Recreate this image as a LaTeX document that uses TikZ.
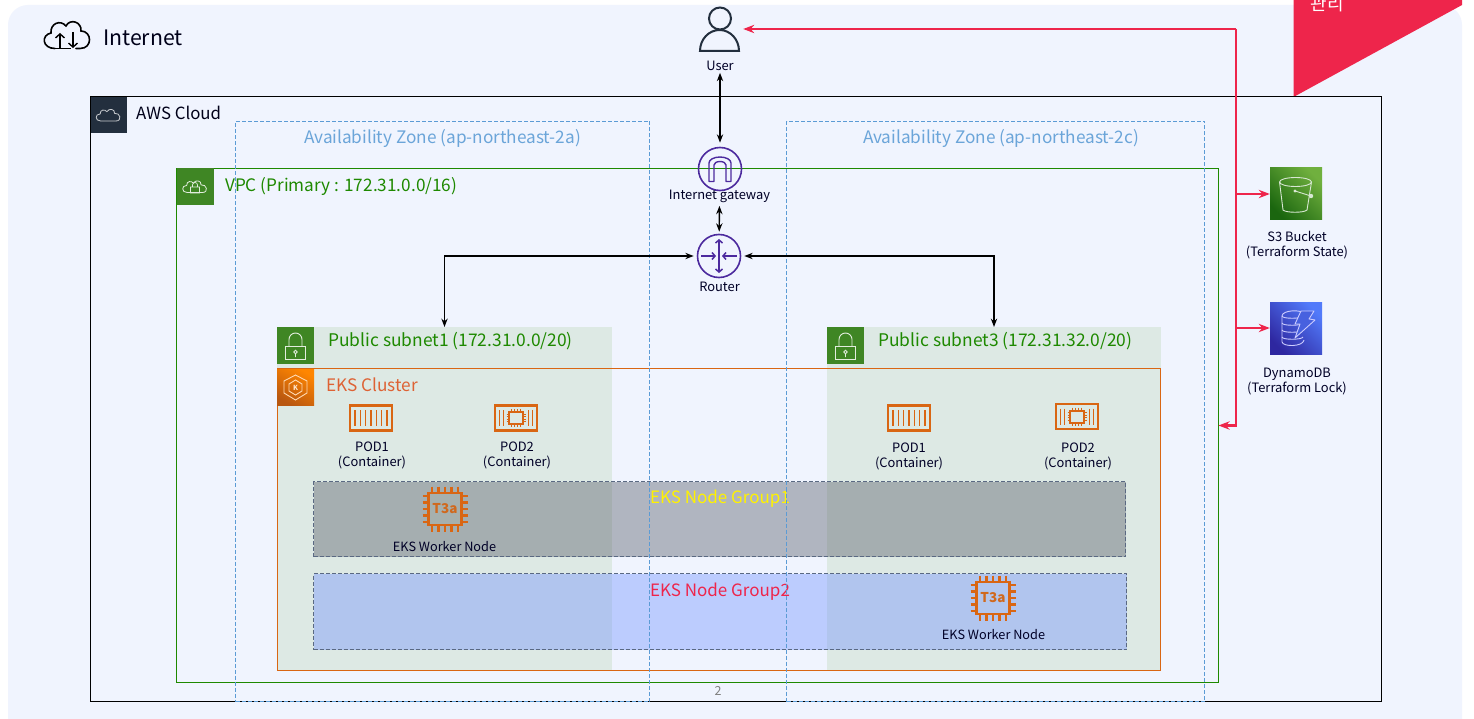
\documentclass[tikz,border=0pt]{standalone}
\usepackage{fontspec}
\setmainfont{Noto Sans CJK KR}
\usetikzlibrary{arrows.meta}
\definecolor{bgblue}{RGB}{240,244,254}
\definecolor{awsdark}{RGB}{35,47,62}
\definecolor{vpcgreen}{RGB}{30,137,0}
\definecolor{taggreen}{RGB}{63,134,36}
\definecolor{zoneblue}{RGB}{91,155,213}
\definecolor{subnetfill}{RGB}{221,233,228}
\definecolor{eksorange}{RGB}{217,102,19}
\definecolor{ekstext}{RGB}{222,98,52}
\definecolor{redline}{RGB}{238,37,75}
\definecolor{gwpurple}{RGB}{76,42,158}
\definecolor{groupedge}{RGB}{90,105,130}
\definecolor{groupgrey}{RGB}{82,87,100}
\definecolor{groupblue}{RGB}{117,149,254}
\definecolor{chipgrey}{RGB}{166,176,174}
\definecolor{chipblue}{RGB}{178,198,238}
\definecolor{sthreelight}{RGB}{112,176,62}
\definecolor{sthreedark}{RGB}{27,102,15}
\definecolor{dynamolight}{RGB}{82,122,250}
\definecolor{dynamodark}{RGB}{46,39,160}
\tikzset{
  box/.style={anchor=north west,inner sep=0,outer sep=0,minimum width=#1},
  tagbox/.style={anchor=north west,inner sep=0,outer sep=0,minimum size=37pt,fill=taggreen},
  txt/.style={inner sep=0,outer sep=0,text=black!85!blue,font=\fontsize{12.9}{15}\selectfont,align=center},
  zonetxt/.style={inner sep=0,text=zoneblue!90!white,font=\fontsize{17.2}{20}\selectfont},
  greentxt/.style={inner sep=0,anchor=west,text=vpcgreen,font=\fontsize{17.2}{20}\selectfont},
  grouptxt/.style={inner sep=0,font=\fontsize{17}{20}\selectfont},
  biarrow/.style={{Stealth[scale=.9]}-{Stealth[scale=.9]},line width=1.4pt},
  redarrow/.style={-{Stealth[scale=.8]},draw=redline,line width=2.4pt},
  podframe/.style={draw=eksorange,line width=2.2pt},
  zoneline/.style={draw=zoneblue,dash pattern=on 4pt off 2pt,line width=1pt},
  pics/cloudicon/.style={code={
    \draw[#1] (-14,11) .. controls (-25,11) and (-25,-2) .. (-15,-2)
      .. controls (-16,-10) and (-6,-11) .. (-3,-6)
      .. controls (1,-13) and (12,-11) .. (11,-3)
      .. controls (21,-5) and (26,11) .. (13,11) -- cycle;
  }},
  pics/lockicon/.style={code={
    \draw[white!85!taggreen,line width=.9pt] (-10,1) rectangle (10,14);
    \draw[white!85!taggreen,line width=.9pt] (-6.5,1) -- (-6.5,-6) arc (180:360:6.5) -- (6.5,1);
    \draw[white!85!taggreen,line width=.8pt] (0,6.5) circle (1.8) (0,8.3) -- (0,11.5);
  }},
  pics/podone/.style={code={
    \draw[podframe] (-21,-12.5) rectangle (21,12.5);
    \foreach \i in {-16,-10.67,-5.33,0,5.33,10.67,16} \draw[eksorange,line width=1.6pt] (\i,-8) -- (\i,8);
  }},
  pics/podtwo/.style={code={
    \draw[podframe] (-21,-12.5) rectangle (21,12.5);
    \foreach \i in {-16.5,-12.5,12.5,16.5} \draw[eksorange,line width=1.6pt] (\i,-8) -- (\i,8);
    \foreach \i in {-4.5,-1.5,1.5,4.5} \draw[eksorange,line width=1pt] (\i,-9) -- (\i,9) (-9.5,\i*.8) -- (9.5,\i*.8);
    \draw[eksorange,line width=2pt,fill=subnetfill] (-7,-6) rectangle (7,6);
  }},
  pics/chipicon/.style={code={
    \foreach \i in {-13,-6.5,0,6.5,13} \draw[eksorange,line width=2.2pt] (\i,-22.5) -- (\i,22.5) (-22.5,\i) -- (22.5,\i);
    \draw[eksorange,line width=2.2pt,fill=#1] (-16.5,-16) rectangle (16.5,16);
    \node[inner sep=0,text=eksorange!90!gray,font=\fontsize{13.5}{15}\selectfont\bfseries] at (0,0) {T3a};
  }},
}
\begin{document}
\begin{tikzpicture}[x=1pt,y=-1pt]
\useasboundingbox (0,0) rectangle (1474,719);
\fill[white] (0,0) rectangle (1474,719);
\fill[bgblue,rounded corners=20pt] (8,740) -- (8,5) -- (1462,5) -- (1462,740) -- cycle;

% corner flag
\fill[redline] (1293.5,97) -- (1293.5,-2) -- (1462,-2) -- (1462,5) -- cycle;
\node[inner sep=0,text=white,font=\fontsize{18}{20}\selectfont] (flagtext) at (1327,4) {관리};

% internet
\draw[line width=1.6pt,line cap=round] (55,48.5) .. controls (42,48.5) and (41,35) .. (51,33)
  .. controls (50,24) and (60,19) .. (66,26) .. controls (70,18) and (82,22) .. (81,31)
  .. controls (92,31) and (93,48.5) .. (80,48.5) -- (76,48.5);
\draw[line width=1.4pt,-{Straight Barb[length=4pt,width=9pt]}] (60,49) -- (60,33);
\draw[line width=1.4pt,-{Straight Barb[length=4pt,width=9pt]}] (73,32) -- (73,48);
\draw[line width=1.4pt] (55,48.5) -- (71,48.5);
\node[inner sep=0,anchor=west,text=black!90!blue,font=\fontsize{21.3}{24}\selectfont] (internettext) at (103,38) {Internet};

% aws cloud
\node[box=1291pt,minimum height=605pt,draw=black,line width=1pt] (awsbox) at (90.5,96.5) {};
\node[tagbox,fill=awsdark,minimum size=36pt] (awstag) at (90.5,97) {};
\pic[scale=.55] at (108.5,115) {cloudicon={white!75!awsdark,line width=.8pt}};
\node[greentxt,text=black!90!blue,font=\fontsize{16.8}{20}\selectfont] (awstext) at (136,113) {AWS Cloud};

% vpc
\node[box=1042pt,minimum height=514pt,draw=vpcgreen,line width=1pt] (vpc) at (176.5,168.5) {};
\node[tagbox] (vpctag) at (176.5,168) {};
\pic[scale=.55] at (195,186.5) {cloudicon={white!85!taggreen,line width=.8pt}};
\draw[white!85!taggreen,line width=.7pt] (190.5,187) rectangle (199.5,193) (192.5,187) -- (192.5,185) arc (180:360:2.5) -- (197.5,187);
\node[greentxt] (vpctext) at (225,186.5) {VPC (Primary : 172.31.0.0/16)};

% public subnets
\node[box=335pt,minimum height=343pt,fill=subnetfill] (subnetA) at (277,327) {};
\node[box=334pt,minimum height=343pt,fill=subnetfill] (subnetC) at (827,327) {};
\node[tagbox] (tagA) at (277,327) {};
\node[tagbox] (tagC) at (827,327) {};
\pic at (295.5,345.5) {lockicon};
\pic at (845.5,345.5) {lockicon};
\node[greentxt,font=\fontsize{17.4}{20}\selectfont] (subnetAtext) at (328,341.5) {Public subnet1 (172.31.0.0/20)};
\node[greentxt,font=\fontsize{17.4}{20}\selectfont] (subnetCtext) at (878,341.5) {Public subnet3 (172.31.32.0/20)};

% eks cluster
\node[box=883pt,minimum height=302pt,draw=eksorange,line width=1pt] (eks) at (277.5,368.5) {};
\shade[shading=axis,top color=orange!95!yellow,bottom color=eksorange!85!black,shading angle=-30] (277,369) rectangle (314,405);
\draw[white!70!orange,line width=.9pt] (295.5,375) -- (307,381) -- (307,393) -- (295.5,400) -- (284,393) -- (284,381) -- cycle;
\draw[white!70!orange,line width=.9pt] (295.5,380) -- (302,384) -- (302,391) -- (295.5,395) -- (289,391) -- (289,384) -- cycle;
\node[inner sep=0,text=white!80!orange,font=\fontsize{7}{8}\selectfont\bfseries] (ekslogo) at (295.5,387.5) {K};
\node[greentxt,text=ekstext] (ekstext) at (326,385) {EKS Cluster};

% node groups
\node[box=812pt,minimum height=75pt,draw=groupedge,dash pattern=on 4pt off 2pt,line width=1pt,fill=groupgrey,fill opacity=.4] (groupone) at (313.5,481.5) {};
\node[box=813pt,minimum height=76pt,draw=groupedge,dash pattern=on 4pt off 2pt,line width=1pt,fill=groupblue,fill opacity=.42] (grouptwo) at (313.5,573.5) {};
\node[grouptxt,text=yellow] (grouponetext) at (720,498.5) {EKS Node Group1};
\node[grouptxt,text=redline] (grouptwotext) at (720,591.5) {EKS Node Group2};

% availability zones
\node[box=414pt,minimum height=580pt,zoneline] (zoneA) at (235.5,121.5) {};
\node[box=418pt,minimum height=580pt,zoneline] (zoneC) at (786.5,121.5) {};
\node[zonetxt] (zoneAtext) at (442.5,138.5) {Availability Zone (ap-northeast-2a)};
\node[zonetxt] (zoneCtext) at (1001,138.5) {Availability Zone (ap-northeast-2c)};

% pods
\pic at (371,418) {podone};
\pic at (516,418) {podtwo};
\pic at (909,418) {podone};
\pic at (1077,416.5) {podtwo};
\node[txt] (podA) at (372,455.5) {POD1\\(Container)};
\node[txt] (podB) at (517,455.5) {POD2\\(Container)};
\node[txt] (podC) at (909,456.5) {POD1\\(Container)};
\node[txt] (podD) at (1078,456.5) {POD2\\(Container)};

% worker nodes
\pic at (445,509) {chipicon={chipgrey}};
\pic at (993,598) {chipicon={chipblue}};
\node[txt,font=\fontsize{12.7}{15}\selectfont] (workerA) at (444.5,546.5) {EKS Worker Node};
\node[txt,font=\fontsize{12.7}{15}\selectfont] (workerB) at (993.5,634.5) {EKS Worker Node};

% user
\node[inner sep=0,minimum width=46pt,minimum height=46pt] (user) at (720,29) {};
\draw[awsdark,line width=2pt] (720,18.5) circle (11);
\draw[awsdark,line width=2pt] (700,51) arc (180:360:19.5 and 21) -- cycle;
\node[txt] (usertext) at (720,66) {User};

% gateway and router
\node[circle,draw=gwpurple,line width=1.6pt,minimum size=43pt,inner sep=0] (gateway) at (720,169) {};
\draw[gwpurple,line width=1.4pt,line join=round] (709,181.5) -- (709,163) arc (180:360:11 and 6) -- (731,181.5) -- (726,181.5) -- (726,165) arc (0:-180:6 and 3.5) -- (714,181.5) -- cycle;
\node[txt] (gatewaytext) at (719.5,196.5) {Internet gateway};
\node[circle,draw=gwpurple,line width=1.6pt,minimum size=43pt,inner sep=0] (router) at (719,256) {};
\draw[gwpurple,line width=1.5pt,{Straight Barb[length=3pt,width=7pt]}-{Straight Barb[length=3pt,width=7pt]}] (719,239) -- (719,273);
\draw[gwpurple,line width=1.5pt,-{Straight Barb[length=3pt,width=7pt]}] (701,256) -- (716,256);
\draw[gwpurple,line width=1.5pt,-{Straight Barb[length=3pt,width=7pt]}] (737,256) -- (722,256);
\node[txt] (routertext) at (719.5,287) {Router};

% state storage
\shade[shading=axis,top color=sthreelight,bottom color=sthreedark,shading angle=-45] (1270,168) rectangle (1322,220);
\node[inner sep=0,minimum size=52pt] (s3box) at (1296,194) {};
\draw[white!80!taggreen,line width=.9pt] (1279.5,182) arc (180:-180:16 and 4.5);
\draw[white!80!taggreen,line width=.9pt] (1279.5,182) -- (1283,210) .. controls (1286,213) and (1304,213) .. (1307,210) -- (1311.5,182);
\draw[white!80!taggreen,line width=.9pt] (1295,191) -- (1311,196);
\fill[white!80!taggreen] (1295,191) circle (1.6) (1311,196) circle (2.2);
\node[txt] (s3text) at (1297,245.5) {S3 Bucket\\(Terraform State)};

\shade[shading=axis,top color=dynamolight,bottom color=dynamodark,shading angle=-45] (1270,302) rectangle (1322,354);
\node[inner sep=0,minimum size=52pt] (dynamobox) at (1296,328) {};
\foreach \y in {316,323,330,337} \draw[white!80!blue,line width=.9pt] (1282,\y) .. controls (1282,\y+3) and (1302,\y+3) .. (1303,\y);
\draw[white!80!blue,line width=.9pt] (1282,316) .. controls (1282,310) and (1302,309) .. (1304,314);
\draw[white!80!blue,line width=.9pt] (1282,316) -- (1282,342) .. controls (1283,347) and (1303,347) .. (1304,340);
\draw[white!80!blue,line width=.9pt,fill=dynamolight!70!dynamodark,line join=round] (1301,311) -- (1314,311) -- (1309,319) -- (1315,320) -- (1295,338) -- (1300,324) -- (1295,324) -- cycle;
\node[txt] (dynamotext) at (1297,381.5) {DynamoDB\\(Terraform Lock)};

% connectors
\draw[biarrow,shorten <=2pt,shorten >=4pt] (usertext) -- (gateway);
\draw[biarrow,shorten <=3pt,shorten >=2pt] (gatewaytext) -- (router);
\draw[biarrow,shorten <=3pt] (router.west) -| (subnetA.north);
\draw[biarrow,shorten <=3pt] (router.east) -| (subnetC.north);
\coordinate (redtop) at (1236,29);
\coordinate (redbot) at (1236,425.5);
\draw[redarrow] (redtop) -- (user.east);
\draw[redarrow] (redtop) -- (redbot) -- (vpc.east);
\draw[redarrow] (redtop |- s3box) -- (s3box);
\draw[redarrow] (redtop |- dynamobox) -- (dynamobox);

\node[inner sep=0,text=gray,font=\fontsize{12.5}{14}\selectfont] (pagenum) at (718,690.5) {2};
\end{tikzpicture}
\end{document}
